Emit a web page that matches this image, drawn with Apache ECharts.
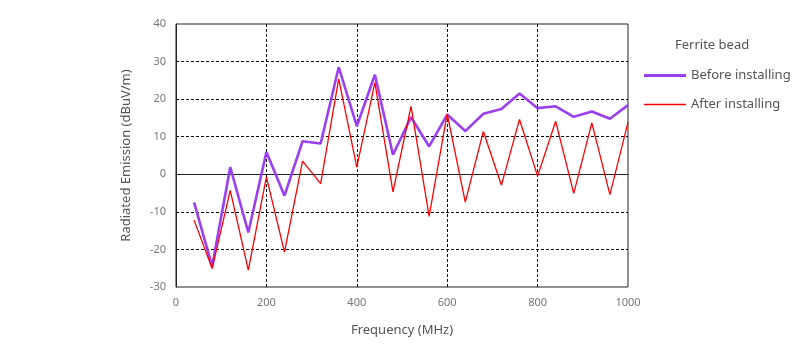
<!DOCTYPE html>
<html>
<head>
<meta charset="utf-8">
<script src="https://cdn.jsdelivr.net/npm/echarts@6/dist/echarts.min.js"></script>
<style>
  html, body { margin: 0; padding: 0; background: #fff; }
  #chart { width: 800px; height: 350px; }
</style>
</head>
<body>
<div id="chart"></div>
<script>
// Measurement frequencies (MHz)
const frequencies = [40, 80, 120, 160, 200, 240, 280, 320, 360, 400, 440, 480, 520,
                     560, 600, 640, 680, 720, 760, 800, 840, 880, 920, 960, 1000];
// Radiated emission levels (dBuV/m)
const beforeInstalling = [-7.5, -24.5, 1.9, -15.5, 5.9, -5.7, 8.8, 8.2, 28.5, 12.8, 26.5, 5.2, 15.2,
                          7.4, 15.9, 11.5, 16.1, 17.4, 21.5, 17.6, 18.1, 15.3, 16.7, 14.8, 18.4];
const afterInstalling = [-12.2, -25.1, -4.3, -25.5, -0.7, -20.7, 3.5, -2.5, 25.4, 1.9, 24.4, -4.7, 18.1,
                         -11.2, 16.1, -7.4, 11.4, -2.9, 14.6, -0.5, 14.1, -5.1, 13.7, -5.4, 13.8];
const legendTitle = 'Ferrite bead';
const seriesNames = ['Before installing', 'After installing'];

const pairs = vals => frequencies.map((f, i) => [f, vals[i]]);
const font = '"Noto Sans", "Open Sans", sans-serif';
const legendText = { fontFamily: font, fontSize: 13, color: '#555' };
// dashed grid lines; the outermost ones are left to the solid plot frame
const gridLine = {
  show: true, showMinLine: false, showMaxLine: false,
  lineStyle: { color: '#000', type: [3, 2], width: 1 }
};

const chart = echarts.init(document.getElementById('chart'));
chart.setOption({
  animation: false,
  backgroundColor: '#fff',
  title: {
    text: legendTitle,
    left: 675,
    top: 39,
    padding: 0,
    textStyle: { fontFamily: font, fontSize: 13, fontWeight: 'normal', color: '#555' }
  },
  legend: [
    {
      left: 644, top: 69, padding: 0,
      icon: 'rect', itemWidth: 42, itemHeight: 3,
      textStyle: legendText,
      data: [seriesNames[0]]
    },
    {
      left: 644, top: 98, padding: 0,
      icon: 'rect', itemWidth: 42, itemHeight: 1.3,
      textStyle: legendText,
      data: [seriesNames[1]]
    }
  ],
  grid: {
    left: 176, right: 172, top: 24, bottom: 63,
    show: true, backgroundColor: 'transparent',
    borderColor: '#222', borderWidth: 1
  },
  xAxis: {
    type: 'value',
    min: 0, max: 1000, interval: 200,
    name: 'Frequency (MHz)',
    nameLocation: 'middle',
    nameGap: 37,
    nameTextStyle: { fontFamily: font, fontSize: 13, color: '#555' },
    axisLine: { show: true, lineStyle: { color: '#222' } },
    axisTick: { show: false },
    axisLabel: { fontFamily: font, fontSize: 11, color: '#777', margin: 10, formatter: v => String(v) },
    splitLine: gridLine
  },
  yAxis: {
    type: 'value',
    min: -30, max: 40, interval: 10,
    name: 'Radiated Emission (dBuV/m)',
    nameLocation: 'middle',
    nameGap: 43,
    nameTextStyle: { fontFamily: font, fontSize: 13, color: '#555' },
    axisLine: { show: true, lineStyle: { color: '#222' } },
    axisTick: { show: false },
    axisLabel: { fontFamily: font, fontSize: 11, color: '#777', margin: 10 },
    splitLine: gridLine
  },
  series: [
    {
      name: seriesNames[0],
      type: 'line',
      data: pairs(beforeInstalling),
      symbol: 'none',
      lineStyle: { color: '#9b3ff2', width: 2.6 },
      itemStyle: { color: '#9b3ff2' },
      z: 2
    },
    {
      name: seriesNames[1],
      type: 'line',
      data: pairs(afterInstalling),
      symbol: 'none',
      lineStyle: { color: '#ff0000', width: 1.3 },
      itemStyle: { color: '#ff0000' },
      z: 3
    }
  ]
});
</script>
</body>
</html>
